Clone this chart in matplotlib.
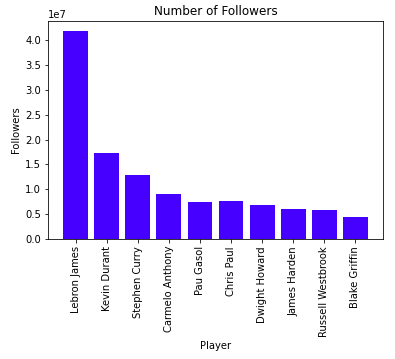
import matplotlib
matplotlib.use('Agg')
import matplotlib.pyplot as plt

# Dados: seguidores por jogador
players = ['Lebron James', 'Kevin Durant', 'Stephen Curry', 'Carmelo Anthony', 'Pau Gasol',
           'Chris Paul', 'Dwight Howard', 'James Harden', 'Russell Westbrook', 'Blake Griffin']
followers = [41.8e6, 17.3e6, 12.9e6, 9.1e6, 7.5e6, 7.7e6, 6.9e6, 6.1e6, 5.9e6, 4.4e6]

fig = plt.figure(figsize=(395 / 72, 359 / 72), dpi=72)
ax = fig.add_axes([48 / 395, 1 - 239 / 359, (383 - 48) / 395, (239 - 21) / 359])
ax.bar(players, followers, color='#4600ff')
ax.set_title('Number of Followers')
ax.set_xlabel('Player')
ax.set_ylabel('Followers')
plt.xticks(rotation=90)

fig.savefig('out.png', dpi=72)
